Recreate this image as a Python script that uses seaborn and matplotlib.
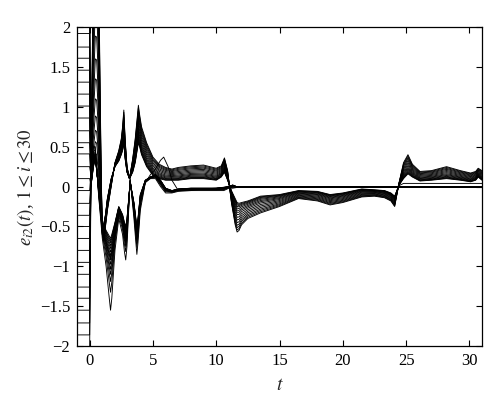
import numpy as np
import pandas as pd
import matplotlib
matplotlib.use("Agg")
import matplotlib.pyplot as plt
import seaborn as sns

# ---- data ----
# initial (history) values on [-1, 0]
init_values = [2.37, 2.22, 2.07, 1.92, 1.75, 1.61, 1.46, 1.31, 1.16, 1.01,
               0.86, 0.70, 0.55, 0.41, 0.25, 0.10, -0.05, -0.21, -0.36, -0.50,
               -0.65, -0.80, -0.95, -1.10, -1.26, -1.40, -1.55, -1.71, -1.86, -2.02]

# group A: oscillating bundle that goes negative after t~11.5
t_A = [0.1, 0.3, 0.45, 0.55, 0.65, 0.8, 0.9, 1.0, 1.1, 1.25, 1.4, 1.7, 2.0, 2.3, 2.5,
       2.6, 2.7, 2.8, 2.95, 3.15, 3.4, 3.6, 3.75, 3.85, 3.95, 4.1, 4.5, 5.0, 5.5,
       6.0, 6.5, 7, 8, 9, 10, 10.4, 10.65, 10.9, 11.2, 11.5, 11.65, 11.8, 12.0, 12.5,
       13.5, 15, 16.5, 18, 19, 20, 21.5, 22.5, 23.3, 23.8, 24.1, 24.45, 24.8, 25.15,
       25.5, 26.1, 27, 28.2, 29.3, 30.1, 30.5, 30.7, 31]
A_low = [0.05, 0.3, 0.42, 0.4, 0.25, -0.1, -0.35, -0.5, -0.48, -0.35, -0.15, 0.1,
         0.25, 0.32, 0.4, 0.45, 0.55, 0.35, 0.18, 0.1, 0.18, 0.3, 0.45, 0.55, 0.5,
         0.4, 0.25, 0.14, 0.1, 0.08, 0.08, 0.08, 0.1, 0.1, 0.08, 0.12, 0.18, 0.08,
         -0.05, -0.15, -0.2, -0.21, -0.2, -0.18, -0.12, -0.1, -0.05, -0.06, -0.1,
         -0.08, -0.03, -0.04, -0.05, -0.08, -0.12, 0.02, 0.1, 0.16, 0.12, 0.07, 0.08,
         0.1, 0.08, 0.06, 0.08, 0.12, 0.08]
A_high = [0.3, 2.8, 4.0, 4.0, 3.4, 1.6, 0.3, -0.6, -0.68, -0.5, -0.3, 0.0, 0.3, 0.45,
          0.6, 0.75, 0.96, 0.6, 0.25, 0.1, 0.35, 0.6, 0.85, 1.02, 0.9, 0.75, 0.55,
          0.37, 0.28, 0.24, 0.22, 0.24, 0.26, 0.27, 0.23, 0.26, 0.36, 0.2, -0.2,
          -0.48, -0.57, -0.55, -0.48, -0.4, -0.33, -0.25, -0.15, -0.18, -0.23, -0.2,
          -0.13, -0.12, -0.14, -0.18, -0.25, 0.05, 0.3, 0.4, 0.28, 0.19, 0.2, 0.25,
          0.2, 0.17, 0.19, 0.23, 0.2]
mix_A = [0.0, 0.04, 0.08, 0.13, 0.19, 0.26, 0.33, 0.41, 0.5, 0.59, 0.68, 0.77, 0.85, 0.93, 1.0]

# group B: bundle that settles to zero after t~11
t_B = [0.1, 0.3, 0.45, 0.7, 1.0, 1.3, 1.55, 1.65, 1.75, 2.0, 2.3, 2.6, 2.75, 2.85,
       2.95, 3.2, 3.5, 3.65, 3.73, 3.82, 4.0, 4.4, 4.8, 5.2, 5.6, 6.0, 6.5, 7, 8, 9,
       10, 10.6, 11.0, 11.3, 11.6, 12, 15, 20, 23.5, 24.1, 24.5, 25, 26, 28, 31]
B_low = [0.0, 0.25, 0.35, 0.0, -0.45, -0.55, -0.62, -0.65, -0.6, -0.45, -0.25, -0.35,
         -0.45, -0.5, -0.4, 0.05, -0.2, -0.4, -0.5, -0.4, -0.1, 0.08, 0.12, 0.15, 0.08,
         -0.02, -0.05, -0.03, -0.02, -0.02, -0.02, -0.01, 0.0, 0.02, 0.0, 0.0, 0.0,
         0.0, 0.0, 0.0, 0.0, 0.0, 0.0, 0.0, 0.0]
B_high = [0.1, 0.5, 0.5, -0.1, -0.65, -1.0, -1.4, -1.55, -1.4, -0.8, -0.4, -0.6,
          -0.82, -0.92, -0.75, 0.1, -0.4, -0.7, -0.85, -0.7, -0.3, 0.05, 0.1, 0.1, 0.0,
          -0.08, -0.08, -0.06, -0.05, -0.05, -0.05, -0.05, -0.02, -0.02, -0.012,
          -0.012, -0.012, -0.012, -0.012, -0.012, -0.012, -0.012, -0.012, -0.012, -0.012]
mix_B = [0.0, 0.03, 0.06, 0.1, 0.14, 0.19, 0.24, 0.3, 0.36, 0.43, 0.5, 0.6, 0.75, 1.0]

# one distinct curve of group B
t_odd = [0.1, 0.3, 0.45, 0.7, 1.0, 1.3, 1.65, 2.0, 2.3, 2.6, 2.85, 3.2, 3.5, 3.73,
         4.0, 4.4, 4.8, 5.2, 5.6, 5.85, 6.2, 6.5, 7.0, 8, 9, 10, 11, 12, 23.5,
         24.3, 24.8, 25.5, 31]
y_odd = [0.0, 0.3, 0.4, 0.0, -0.55, -0.7, -0.9, -0.6, -0.3, -0.45, -0.7, 0.08, -0.3,
         -0.65, -0.2, 0.05, 0.15, 0.22, 0.33, 0.37, 0.25, 0.08, -0.05, -0.05, -0.03,
         -0.02, 0.0, 0.0, 0.0, 0.0, 0.04, 0.04, 0.04]

x_ticks = [0, 5, 10, 15, 20, 25, 30]
y_ticks = [-2, -1.5, -1, -0.5, 0, 0.5, 1, 1.5, 2]
y_tick_labels = ["\u22122", "\u22121.5", "\u22121", "\u22120.5", "0", "0.5", "1", "1.5", "2"]

# ---- build long-form table ----
rows = []
cid = 0
init_iter = iter(init_values)
def add_curve(ts, ys):
    global cid
    v0 = next(init_iter)
    rows.append((cid, -1.0, v0))
    rows.append((cid, 0.0, v0))
    for tt, yy in zip(ts, ys):
        rows.append((cid, tt, yy))
    cid += 1

A_low_a = np.array(A_low)
A_high_a = np.array(A_high)
B_low_a = np.array(B_low)
B_high_a = np.array(B_high)
order_A = [("A", w) for w in mix_A]
order_B = [("B", w) for w in mix_B] + [("O", None)]
interleaved = []
for i in range(15):
    interleaved.append(order_A[i])
    interleaved.append(order_B[i])
for g, w in interleaved:
    if g == "A":
        add_curve(t_A, A_low_a + w * (A_high_a - A_low_a))
    elif g == "B":
        add_curve(t_B, B_low_a + w * (B_high_a - B_low_a))
    else:
        add_curve(t_odd, y_odd)

df = pd.DataFrame(rows, columns=["curve", "t", "e"])

# ---- plot ----
sns.set_style("ticks")
plt.rcParams["font.family"] = ["Liberation Serif", "DejaVu Serif"]
plt.rcParams["mathtext.fontset"] = "stix"
plt.rcParams["axes.unicode_minus"] = True

fig = plt.figure(figsize=(5.0, 4.11), dpi=100)
ax = fig.add_axes([0.154, 0.158, 0.81, 0.776])
sns.lineplot(data=df, x="t", y="e", units="curve", estimator=None,
             color="black", linewidth=0.65, ax=ax, legend=False)

ax.set_xlim(-1, 31)
ax.set_ylim(-2, 2)
ax.set_xticks(x_ticks)
ax.set_yticks(y_ticks)
ax.set_yticklabels(y_tick_labels)
ax.tick_params(direction="in", top=True, right=True, length=4, width=0.8,
               labelsize=12, pad=5, colors="black")
for s in ax.spines.values():
    s.set_linewidth(0.9)
    s.set_color("black")
ax.set_xlabel(r"$t$", fontsize=14, labelpad=6)
ax.set_ylabel(r"$e_{i2}(t)$, $1 \leq i \leq 30$", fontsize=13.5, labelpad=3)

fig.savefig("out.png", dpi=100)
